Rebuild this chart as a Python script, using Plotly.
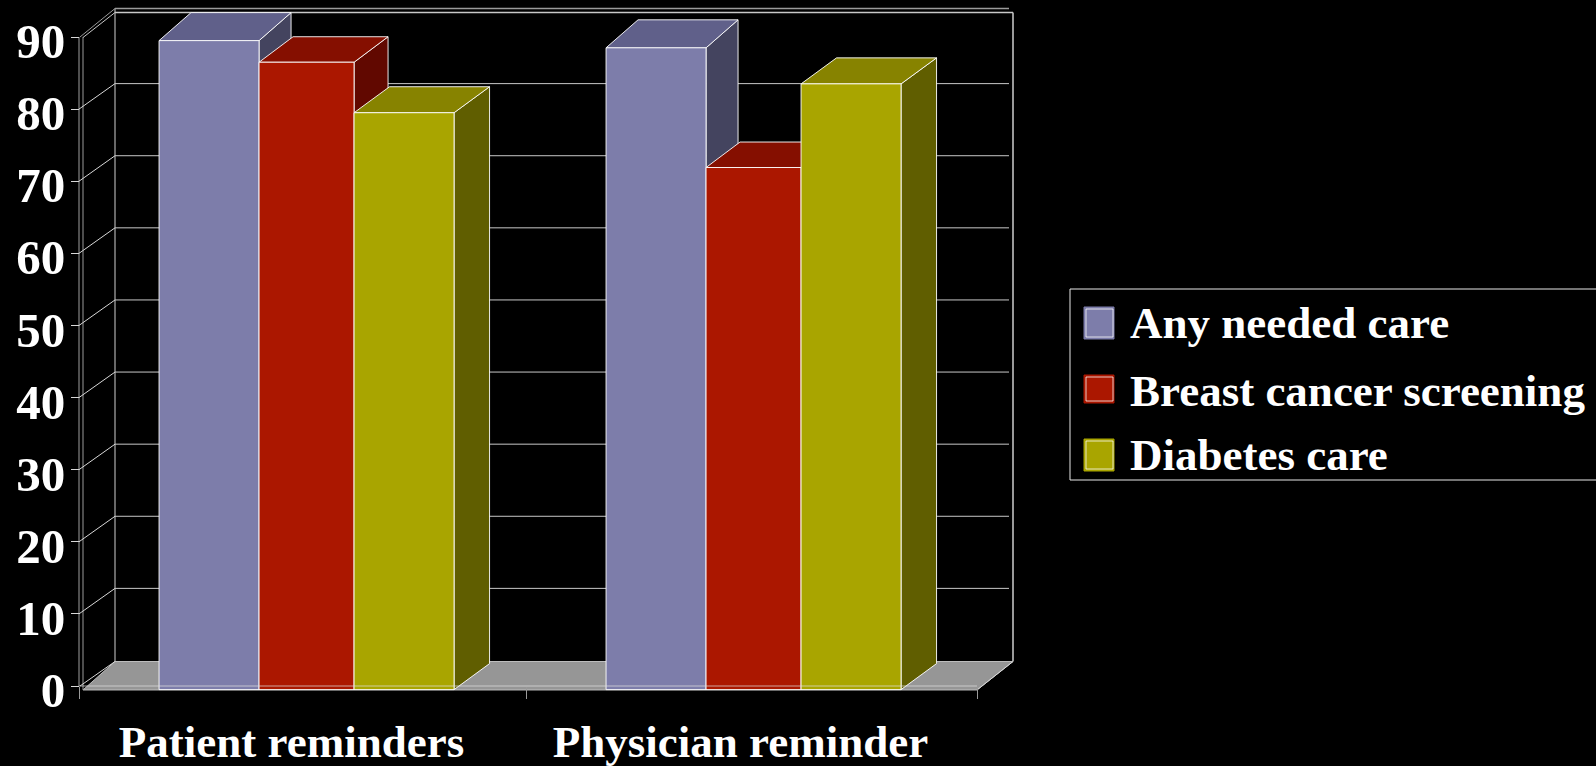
import plotly.graph_objects as go

# Chart data
categories = ["Patient reminders", "Physician reminder"]
series_names = ["Any needed care", "Breast cancer screening", "Diabetes care"]
any_needed_care = [90, 89]
breast_cancer_screening = [87, 72.4]
diabetes_care = [80, 84]
y_ticks = [0, 10, 20, 30, 40, 50, 60, 70, 80, 90]

# Pixel layout: the axes fill the page so the box can extend past the axis lines
W, H = 1596, 766
LEFT, RIGHT, TOP, BOTTOM = 79, 977, 37, 686
UX = (RIGHT - LEFT) / 2.0   # pixels per category
UY = (BOTTOM - TOP) / 90.0  # pixels per value unit
X_RANGE = [-0.5 - LEFT / UX, -0.5 + (W - LEFT) / UX]
Y_RANGE = [-(H - BOTTOM) / UY, BOTTOM / UY]


def dx(px):
    return px / UX


def dy(px):
    return px / UY


# Face colours: front, top, side
FRONT = ["#7D7DAA", "#AB1700", "#A9A500"]
TOPS = ["#60608A", "#850F00", "#878300"]
SIDES = ["#44445F", "#610800", "#605E00"]
EDGE_GREY = "#9a9a9a"
EDGE = "rgba(255,255,255,0.9)"

# Bar geometry, in axis units
GROUP_STEP = dx(447)
BAR_W = [dx(100), dx(95), dx(100)]
BAR_LEFT = [-0.3217, -0.0990, 0.1126]
DEPTH_X = [dx(32), dx(34), dx(35.5)]
DEPTH_Y = [dy(28), dy(25.5), dy(26)]
BASE = -0.5

series = [any_needed_care, breast_cancer_screening, diabetes_care]
fig = go.Figure()


def poly(xs, ys, fill, line=EDGE, width=1):
    fig.add_trace(go.Scatter(
        x=xs, y=ys, mode="lines", fill="toself", fillcolor=fill,
        line=dict(color=line, width=width), hoverinfo="skip", showlegend=False))


def seg(xs, ys, color=EDGE_GREY, width=1, **kw):
    fig.add_trace(go.Scatter(
        x=xs, y=ys, mode="lines", line=dict(color=color, width=width),
        hoverinfo="skip", showlegend=False, **kw))


# Walls and floor of the 3-D box
wall_front = -0.5 + dx(4)
wall_back = -0.5 + dx(36)
wall_right_back = 1.5 + dx(36)
wall_right_front = 1.5
depth = dy(24.5)
grid_depth = dy(25.5)
floor_y = -0.55

poly([wall_front, wall_back, wall_right_back, wall_right_front, wall_front],
     [floor_y, depth, depth, floor_y, floor_y], "#969696", line="#bdbdbd")
seg([wall_front, wall_front], [floor_y, 90])
seg([wall_back, wall_back], [depth, 90 + depth + dy(4)], color="#d0d0d0")
seg([wall_right_back, wall_right_back], [depth, 90 + depth], color=EDGE_GREY, width=2)
seg([wall_back, wall_right_back], [90 + depth, 90 + depth], color="#c8c8c8", width=1.5)
seg([wall_back, wall_right_back - dx(4)], [90 + depth + dy(4)] * 2, color=EDGE_GREY, width=1.5)
seg([wall_front, wall_back], [90 - dy(0.5), 90 + depth], color="#c8c8c8")
seg([-0.5 + dx(1), wall_back], [90, 90 + depth + dy(4)], color=EDGE_GREY)
seg([-0.5 + dx(1), wall_back], [floor_y + 0.55, depth], color="#d8d8d8")
seg([wall_right_front, wall_right_back], [floor_y, depth], color="#d8d8d8")

for t in y_ticks[1:-1]:
    seg([-0.5, wall_back], [t, t + grid_depth], color="#d8d8d8")
    seg([wall_back, wall_right_back - dx(4)], [t + grid_depth, t + grid_depth], color="#c8c8c8")

# Tops and sides of the bars, drawn group by group, left to right
for c in range(len(categories)):
    for s, values in enumerate(series):
        xl = c * GROUP_STEP + BAR_LEFT[s]
        xr = xl + BAR_W[s]
        top = values[c] + BASE
        ddx, ddy = DEPTH_X[s], DEPTH_Y[s]
        poly([xr, xr + ddx, xr + ddx, xr, xr],
             [top, top + ddy, BASE + ddy, BASE, top], SIDES[s])
        poly([xl, xr, xr + ddx, xl + ddx, xl],
             [top, top, top + ddy, top + ddy, top], TOPS[s])

# Front faces sit on an overlaid pair of axes so they cover the depth faces
for s, values in enumerate(series):
    fig.add_trace(go.Bar(
        name=series_names[s],
        x=[c * GROUP_STEP + BAR_LEFT[s] + BAR_W[s] / 2 for c in range(len(categories))],
        y=values, base=BASE, width=BAR_W[s],
        marker=dict(color=FRONT[s], line=dict(color=EDGE, width=1)),
        xaxis="x2", yaxis="y2", showlegend=False,
        hovertemplate="%{y}<extra>" + series_names[s] + "</extra>"))

# Axis lines run in front of the bars
AXIS_LINE = "rgba(225,225,225,0.7)"
seg([-0.5, 1.5], [0, 0], color=AXIS_LINE, xaxis="x2", yaxis="y2")
seg([-0.5, -0.5], [0, 90], color=AXIS_LINE, xaxis="x2", yaxis="y2")

FONT = "Liberation Serif"
x_tick_font = dict(family=FONT, size=45, color="white", weight="bold")
y_tick_font = dict(family=FONT, size=49, color="white", weight="bold")

fig.update_layout(
    width=W, height=H, paper_bgcolor="black", plot_bgcolor="black",
    margin=dict(l=0, r=0, t=0, b=0, autoexpand=False),
    barmode="overlay", showlegend=False,
    xaxis=dict(range=X_RANGE, visible=False),
    yaxis=dict(range=Y_RANGE, visible=False),
    xaxis2=dict(
        range=X_RANGE, overlaying="x", anchor="free", position=(H - BOTTOM) / H,
        side="bottom", tickvals=[0, 1], ticktext=categories, ticks="",
        showgrid=False, zeroline=False, showline=False,
        tickfont=x_tick_font, ticklabelshift=-12, ticklabelstandoff=25,
        minor=dict(tickvals=[-0.5, 0.5 - dx(2), 1.5], ticks="outside", ticklen=12,
                   tickcolor=EDGE_GREY, tickwidth=1, showgrid=False)),
    yaxis2=dict(
        range=Y_RANGE, overlaying="y", anchor="free", position=LEFT / W, side="left",
        tickvals=y_ticks, ticks="outside", ticklen=8, tickcolor="#d8d8d8",
        showgrid=False, zeroline=False, showline=False,
        tickfont=y_tick_font, ticklabelstandoff=-4, ticklabelshift=4),
)


# Legend box, swatches and labels, placed in page pixels
def xp(px):
    return px / W


def yp(py):
    return (H - py) / H


def page_rect(x0, y0, x1, y1, **kw):
    fig.add_shape(type="rect", xref="paper", yref="paper",
                  x0=xp(x0), x1=xp(x1), y0=yp(y1), y1=yp(y0), **kw)


fig.add_shape(type="path", xref="paper", yref="paper",
              path=f"M {xp(W)} {yp(289)} L {xp(1070)} {yp(289)} "
                   f"L {xp(1070)} {yp(480)} L {xp(W)} {yp(480)}",
              line=dict(color="#e8e8e8", width=1))

swatch_rows = [(307, 339, 339), (375, 403, 407), (439, 471, 471)]
for s, (y0, y1, base) in enumerate(swatch_rows):
    page_rect(1084, y0, 1114, y1, fillcolor=FRONT[s], line=dict(color=FRONT[s], width=1))
    page_rect(1086, y0 + 2, 1113, y1 - 2, fillcolor=FRONT[s],
              line=dict(color="rgba(255,255,255,0.75)", width=1))
    fig.add_annotation(
        xref="paper", yref="paper", x=xp(1128), y=yp(base), text=series_names[s],
        showarrow=False, xanchor="left", yanchor="bottom", yshift=-11,
        align="left", font=dict(family=FONT, size=45, color="white", weight="bold"))

fig.write_html("out.html", config=dict(displayModeBar=False))
